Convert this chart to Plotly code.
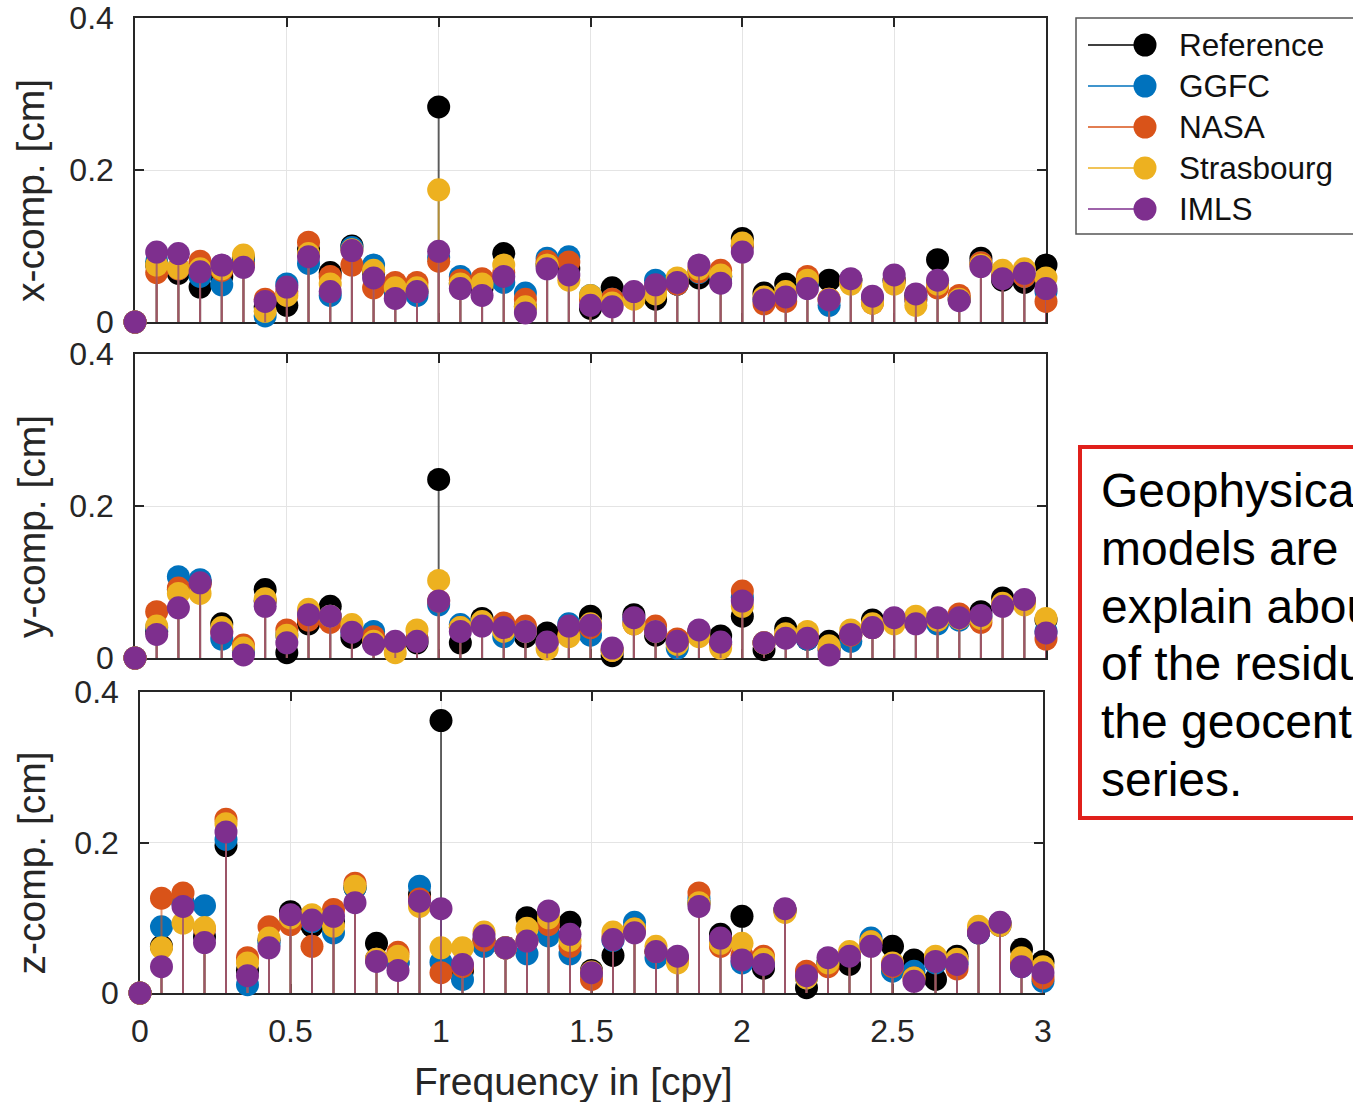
import plotly.graph_objects as go

W, H = 1353, 1102

# Frequency grid in cycles per year
freq = [0, 0.0714, 0.1429, 0.2143, 0.2857, 0.3571, 0.4286, 0.5, 0.5714, 0.6429,
        0.7143, 0.7857, 0.8571, 0.9286, 1.0, 1.0714, 1.1429, 1.2143, 1.2857, 1.3571,
        1.4286, 1.5, 1.5714, 1.6429, 1.7143, 1.7857, 1.8571, 1.9286, 2.0, 2.0714,
        2.1429, 2.2143, 2.2857, 2.3571, 2.4286, 2.5, 2.5714, 2.6429, 2.7143, 2.7857,
        2.8571, 2.9286, 3.0]

series_names = ["Reference", "GGFC", "NASA", "Strasbourg", "IMLS"]
x_tick_vals = [0, 0.5, 1, 1.5, 2, 2.5, 3]
x_tick_text = ["0", "0.5", "1", "1.5", "2", "2.5", "3"]
y_tick_vals = [0, 0.2, 0.4]
y_tick_text = ["0", "0.2", "0.4"]

# x-component amplitudes [cm]
x_ref = [0, .075, .064, .046, .06, .085, .02, .022, .095, .065, .1, .065, .04, .04, .283,
         .05, .045, .09, .02, .075, .07, .018, .045, .035, .03, .05, .058, .06, .11, .038,
         .05, .05, .055, .055, .03, .055, .035, .082, .03, .084, .055, .052, .075]
x_ggfc = [0, .08, .07, .06, .049, .08, .008, .05, .077, .035, .098, .075, .04, .035, .085,
          .06, .05, .052, .038, .084, .086, .035, .03, .035, .055, .05, .065, .06, .1, .03,
          .035, .05, .022, .055, .03, .055, .03, .05, .03, .078, .06, .06, .04]
x_nasa = [0, .065, .07, .08, .068, .075, .03, .04, .105, .06, .075, .045, .052, .052, .08,
          .055, .057, .065, .03, .08, .079, .03, .03, .035, .045, .05, .066, .068, .1, .024,
          .027, .06, .03, .055, .025, .055, .03, .045, .035, .078, .06, .06, .027]
x_stras = [0, .075, .071, .07, .07, .088, .014, .035, .09, .05, .095, .068, .045, .045, .174,
           .05, .05, .075, .02, .075, .055, .035, .025, .03, .037, .058, .07, .062, .104, .033,
           .04, .055, .03, .05, .025, .05, .022, .05, .03, .075, .068, .07, .058]
x_imls = [0, .092, .09, .066, .075, .072, .027, .046, .086, .04, .094, .058, .031, .04, .093,
          .044, .035, .06, .012, .07, .062, .022, .02, .04, .049, .052, .075, .051, .092, .029,
          .033, .044, .029, .057, .034, .062, .037, .055, .028, .073, .057, .064, .044]

# y-component amplitudes [cm]
y_ref = [0, .035, .09, .1, .045, .01, .09, .007, .045, .068, .027, .02, .02, .02, .235,
         .02, .052, .04, .028, .033, .04, .055, .003, .057, .03, .02, .035, .029, .055, .011,
         .039, .025, .022, .03, .05, .05, .05, .05, .052, .061, .079, .075, .05]
y_ggfc = [0, .04, .107, .103, .025, .008, .075, .03, .06, .055, .035, .035, .02, .025, .07,
          .044, .045, .028, .035, .02, .045, .03, .01, .05, .035, .013, .035, .02, .08, .02,
          .027, .025, .01, .022, .04, .05, .05, .045, .05, .055, .07, .075, .035]
y_nasa = [0, .061, .092, .097, .035, .017, .075, .037, .05, .047, .038, .028, .02, .025, .075,
          .04, .045, .046, .042, .02, .03, .04, .01, .045, .042, .025, .035, .018, .088, .02,
          .03, .028, .012, .03, .04, .05, .05, .05, .058, .047, .07, .075, .025]
y_stras = [0, .042, .085, .085, .04, .013, .078, .03, .064, .055, .044, .022, .007, .037, .102,
           .04, .048, .035, .035, .012, .028, .045, .01, .045, .035, .018, .028, .013, .068, .02,
           .032, .035, .016, .037, .045, .045, .055, .05, .052, .052, .072, .07, .052]
y_imls = [0, .031, .066, .099, .033, .004, .068, .02, .057, .055, .034, .018, .022, .022, .075,
          .035, .042, .04, .035, .021, .042, .043, .013, .053, .035, .022, .037, .021, .075, .02,
          .026, .026, .004, .031, .04, .053, .045, .053, .053, .056, .068, .077, .033]

# z-component amplitudes [cm]
z_ref = [0, .062, .12, .075, .196, .03, .07, .108, .089, .095, .14, .066, .04, .131, .362,
         .03, .07, .06, .1, .09, .094, .03, .05, .085, .055, .045, .12, .078, .102, .033,
         .11, .007, .04, .038, .065, .062, .044, .018, .049, .08, .093, .058, .042]
z_ggfc = [0, .088, .12, .116, .204, .011, .065, .1, .095, .08, .14, .045, .04, .142, .041,
          .018, .062, .06, .052, .076, .052, .025, .07, .094, .047, .045, .126, .07, .04, .04,
          .11, .02, .04, .05, .073, .029, .029, .04, .04, .08, .09, .035, .0155]
z_nasa = [0, .126, .133, .085, .231, .047, .088, .091, .062, .111, .146, .045, .054, .125, .027,
          .035, .07, .06, .07, .091, .062, .018, .075, .085, .055, .045, .133, .062, .05, .049,
          .11, .029, .035, .05, .068, .035, .02, .045, .032, .082, .09, .04, .02]
z_stras = [0, .06, .093, .087, .225, .04, .073, .1, .104, .089, .142, .045, .049, .115, .06,
           .06, .081, .06, .086, .1, .07, .028, .081, .085, .062, .04, .12, .066, .066, .045,
           .107, .02, .04, .055, .068, .04, .02, .049, .045, .0886, .09, .047, .035]
z_imls = [0, .035, .115, .067, .214, .023, .06, .104, .097, .102, .12, .042, .03, .122, .112,
          .038, .076, .06, .069, .109, .078, .027, .071, .08, .055, .049, .115, .073, .044, .038,
          .112, .023, .047, .049, .062, .037, .0155, .042, .038, .08, .094, .035, .027]

note_lines = ["Geophysical", "models are able", "explain about", "of the residuals",
              "the geocenter", "series."]

colors = ["#000000", "#0072BD", "#D95319", "#EDB120", "#7E2F8E"]
stem_colors = ["rgba(0,0,0,0.6)", "rgba(0,114,189,0.6)", "rgba(217,83,25,0.6)",
               "rgba(237,177,32,0.6)", "rgba(126,47,142,0.6)"]

FONT = "Liberation Sans, Arial, Helvetica, sans-serif"
AXIS_COLOR = "#262626"


def px(x):
    return x / W


def py(y):
    return 1 - y / H


panels = [
    ("x-comp. [cm]", [x_ref, x_ggfc, x_nasa, x_stras, x_imls], (135, 1046), (18, 322)),
    ("y-comp. [cm]", [y_ref, y_ggfc, y_nasa, y_stras, y_imls], (135, 1046), (354, 658)),
    ("z-comp. [cm]", [z_ref, z_ggfc, z_nasa, z_stras, z_imls], (140, 1043), (692, 993)),
]

fig = go.Figure()
annotations = []
layout_axes = {}

for i, (label, series, (xl, xr), (yt, yb)) in enumerate(panels):
    suffix = "" if i == 0 else str(i + 1)
    xa, ya = "x" + suffix, "y" + suffix
    for name, col, scol, vals in zip(series_names, colors, stem_colors, series):
        sx, sy = [], []
        for f, v in zip(freq, vals):
            sx += [f, f, None]
            sy += [0, v, None]
        fig.add_trace(go.Scatter(x=sx, y=sy, mode="lines", xaxis=xa, yaxis=ya,
                                 line=dict(color=scol, width=2), cliponaxis=False,
                                 showlegend=False, hoverinfo="skip"))
        fig.add_trace(go.Scatter(x=freq, y=vals, mode="markers", xaxis=xa, yaxis=ya, name=name,
                                 marker=dict(color=col, size=23, line=dict(width=0)),
                                 cliponaxis=False, showlegend=False))

    common = dict(showline=True, linecolor=AXIS_COLOR, linewidth=1.5, mirror="ticks",
                  ticks="inside", ticklen=9, tickwidth=1.5, tickcolor=AXIS_COLOR,
                  showgrid=True, gridcolor="#e4e4e4", gridwidth=1, zeroline=False,
                  layer="below traces", automargin=False,
                  tickfont=dict(family=FONT, size=32, color=AXIS_COLOR))
    layout_axes["xaxis" + suffix] = dict(common, domain=[px(xl), px(xr)], range=[0, 3],
                                         anchor=ya, tickvals=x_tick_vals, ticktext=x_tick_text,
                                         showticklabels=(i == 2), ticklabelstandoff=9)
    layout_axes["yaxis" + suffix] = dict(common, domain=[py(yb), py(yt)], range=[0, 0.4],
                                         anchor=xa, tickvals=y_tick_vals, ticktext=y_tick_text,
                                         ticklabelstandoff=13)
    annotations.append(dict(text=label, textangle=-90, xref="paper", yref="paper",
                            x=px(31), y=py((yt + yb) / 2 + 21), xanchor="center",
                            yanchor="middle", showarrow=False,
                            font=dict(family=FONT, size=39, color=AXIS_COLOR)))

annotations.append(dict(text="Frequency in [cpy]", xref="paper", yref="paper",
                        x=px(573), y=py(1081), xanchor="center", yanchor="middle",
                        showarrow=False, font=dict(family=FONT, size=39, color=AXIS_COLOR)))

# Legend drawn as a boxed key: short line ending in a filled marker, then the name
shapes = [dict(type="rect", xref="paper", yref="paper", x0=px(1076), x1=px(1400),
               y0=py(234), y1=py(18), line=dict(color="#555555", width=1.5),
               fillcolor="white", layer="above")]
for j, (name, col) in enumerate(zip(series_names, colors)):
    cy = 45 + 41 * j
    shapes.append(dict(type="line", xref="paper", yref="paper", x0=px(1088), x1=px(1145),
                       y0=py(cy), y1=py(cy), line=dict(color=col, width=1.3)))
    shapes.append(dict(type="circle", xref="paper", yref="paper",
                       xsizemode="pixel", ysizemode="pixel",
                       xanchor=px(1145), yanchor=py(cy), x0=-11.5, x1=11.5, y0=-11.5, y1=11.5,
                       fillcolor=col, line=dict(width=0)))
    annotations.append(dict(text=name, xref="paper", yref="paper", x=px(1177), y=py(cy),
                            xanchor="left", yanchor="middle", showarrow=False,
                            font=dict(family=FONT, size=31.5, color="#111111")))

# Red-framed text note at the right, one annotation per line
shapes.append(dict(type="rect", xref="paper", yref="paper", x0=px(1080), x1=px(1420),
                   y0=py(818), y1=py(447), line=dict(color="#E0201B", width=4),
                   fillcolor="white"))
for j, line_text in enumerate(note_lines):
    annotations.append(dict(text=line_text, xref="paper", yref="paper",
                            x=px(1099), y=py(491 + 57.6 * j), xanchor="left", yanchor="middle",
                            align="left", showarrow=False,
                            font=dict(family=FONT, size=48, color="#000000")))

fig.update_layout(width=W, height=H, margin=dict(l=0, r=0, t=0, b=0), autosize=False,
                  paper_bgcolor="white", plot_bgcolor="white", showlegend=False,
                  shapes=shapes, annotations=annotations, **layout_axes)

fig.write_html("out.html")
